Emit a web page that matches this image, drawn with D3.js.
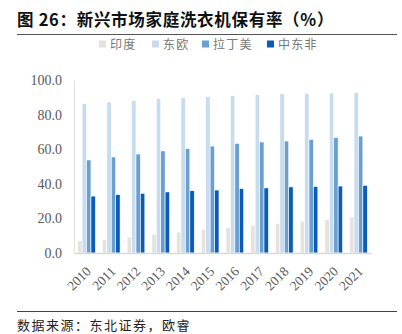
<!DOCTYPE html>
<html>
<head>
<meta charset="utf-8">
<script src="https://cdn.jsdelivr.net/npm/d3@7/dist/d3.min.js"></script>
<style>
  html, body { margin: 0; padding: 0; background: #fff; }
  svg { display: block; }
</style>
</head>
<body>
<svg id="chart" width="402" height="334"></svg>
<script>
// Household washing machine ownership in emerging markets (%)
const years = ["2010","2011","2012","2013","2014","2015","2016","2017","2018","2019","2020","2021"];
const seriesNames = ["印度", "东欧", "拉丁美", "中东非"];
const india      = [7.0, 7.7, 9.2, 10.8, 12.1, 13.7, 14.6, 16.0, 17.1, 18.3, 19.3, 20.8];
const eastEurope = [86.3, 87.3, 88.2, 89.2, 89.8, 90.4, 90.9, 91.5, 92.1, 92.3, 92.5, 92.9];
const latAm      = [53.8, 55.5, 57.2, 59.0, 60.3, 61.8, 63.4, 64.2, 64.7, 65.7, 66.7, 67.6];
const mea        = [32.9, 33.7, 34.5, 35.3, 36.0, 36.4, 37.2, 37.6, 38.2, 38.5, 38.7, 39.1];
const yTicks = [0, 20, 40, 60, 80, 100];
const colors = ["#e6e2dc", "#c8dcef", "#6a9fd2", "#0b5cb4"];

const seriesValues = [india, eastEurope, latAm, mea];

const svg = d3.select("#chart");
const plot = { left: 74, right: 371, top: 80, bottom: 253 };

const x0 = d3.scaleBand().domain(years).range([plot.left, plot.right])
  .paddingInner(0.285).paddingOuter(0.15);
const x1 = d3.scaleBand().domain(seriesNames).range([0, x0.bandwidth()]);
const y = d3.scaleLinear().domain([0, 100]).range([plot.bottom, plot.top]);

// Title and rules
svg.append("text")
  .attr("x", 17).attr("y", 26)
  .attr("font-family", "'Noto Sans CJK SC', sans-serif")
  .attr("font-weight", "bold").attr("font-size", 16.5).attr("letter-spacing", 0.7).attr("fill", "#111")
  .text("图 26：新兴市场家庭洗衣机保有率（%）");
svg.append("line").attr("x1", 17).attr("x2", 397).attr("y1", 34.5).attr("y2", 34.5)
  .attr("stroke", "#555").attr("stroke-width", 1);
svg.append("line").attr("x1", 17).attr("x2", 397).attr("y1", 311.5).attr("y2", 311.5)
  .attr("stroke", "#444").attr("stroke-width", 1);
svg.append("text")
  .attr("x", 17).attr("y", 330)
  .attr("font-family", "'Noto Sans CJK SC', sans-serif")
  .attr("font-size", 13).attr("letter-spacing", 1.5).attr("fill", "#222")
  .text("数据来源：东北证券，欧睿");

// Legend
const legendX = [99, 152, 202, 267];
const legend = svg.append("g");
seriesNames.forEach((name, i) => {
  const g = legend.append("g").attr("transform", `translate(${legendX[i]},44)`);
  g.append("rect").attr("x", 0).attr("y", -3.5).attr("width", 7).attr("height", 7).attr("fill", colors[i]);
  g.append("text").attr("x", 11).attr("y", 4.5)
    .attr("font-family", "'Noto Sans CJK SC', sans-serif")
    .attr("font-size", 12).attr("letter-spacing", 1.3).attr("fill", "#777")
    .text(name);
});

// Y axis
const yAxis = d3.axisLeft(y).tickValues(yTicks).tickSize(0).tickPadding(12)
  .tickFormat(d => d.toFixed(1));
const yg = svg.append("g").attr("transform", `translate(${plot.left},0)`).call(yAxis);
yg.select(".domain").attr("stroke", "#e0e0e0");
yg.selectAll("text")
  .attr("font-family", "'Liberation Serif', 'Times New Roman', serif")
  .attr("font-size", 14).attr("fill", "#595959");

// Bars
const groups = svg.append("g").selectAll("g").data(years).join("g")
  .attr("transform", d => `translate(${x0(d)},0)`);
groups.selectAll("rect")
  .data((d, i) => seriesNames.map((s, k) => ({ s, k, v: seriesValues[k][i] })))
  .join("rect")
  .attr("x", d => x1(d.s))
  .attr("width", x1.bandwidth())
  .attr("y", d => y(d.v))
  .attr("height", d => y(0) - y(d.v))
  .attr("fill", d => colors[d.k])
  .attr("stroke", "#fff").attr("stroke-width", 0.6);

// X axis
const xAxis = d3.axisBottom(x0).tickSize(0).tickPadding(6);
const xg = svg.append("g").attr("transform", `translate(0,${plot.bottom})`).call(xAxis);
xg.select(".domain").attr("stroke", "#d9d9d9").attr("stroke-width", 1.5);
xg.selectAll("text")
  .attr("font-family", "'Liberation Serif', 'Times New Roman', serif")
  .attr("font-size", 13.5).attr("fill", "#595959")
  .attr("text-anchor", "end")
  .attr("dx", 0).attr("dy", 0)
  .attr("transform", "translate(1,15) rotate(-45)");
</script>
</body>
</html>
